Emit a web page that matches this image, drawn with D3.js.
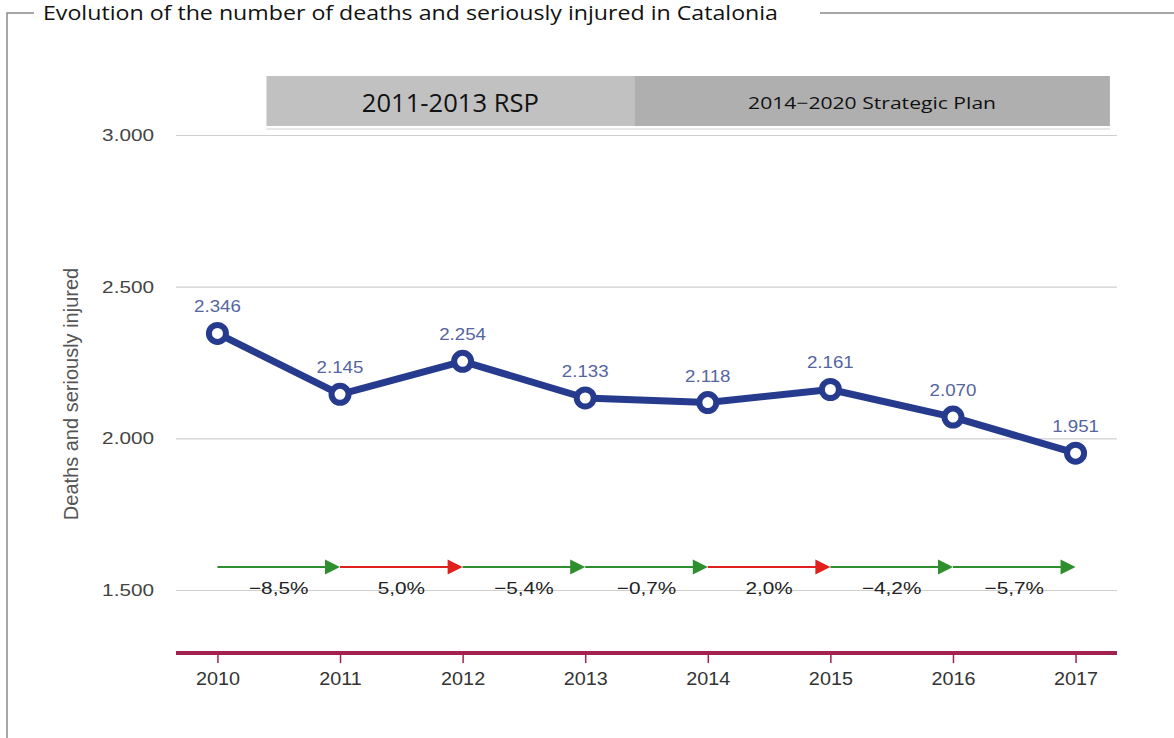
<!DOCTYPE html>
<html>
<head>
<meta charset="utf-8">
<script src="https://cdnjs.cloudflare.com/ajax/libs/d3/7.8.5/d3.min.js"></script>
<style>
  html, body { margin: 0; padding: 0; background: #fff; }
  svg { display: block; }
</style>
</head>
<body>
<svg id="chart" width="1174" height="738"></svg>
<script>
// ---- data ----
const years = ["2010", "2011", "2012", "2013", "2014", "2015", "2016", "2017"];
const values = [2346, 2145, 2254, 2133, 2118, 2161, 2070, 1951];
const valueLabels = ["2.346", "2.145", "2.254", "2.133", "2.118", "2.161", "2.070", "1.951"];
const changeLabels = ["\u22128,5%", "5,0%", "\u22125,4%", "\u22120,7%", "2,0%", "\u22124,2%", "\u22125,7%"];
const changeValues = [-8.5, 5.0, -5.4, -0.7, 2.0, -4.2, -5.7];
const yTicks = [1500, 2000, 2500, 3000];
const yTickLabels = ["1.500", "2.000", "2.500", "3.000"];
const periods = ["2011-2013 RSP", "2014\u22122020 Strategic Plan"];
const periodStarts = [2010.4, 2013.4];
const periodEnds = [2013.4, 2017.28];
const axisBase = 1292;
const titleText = "Evolution of the number of deaths and seriously injured in Catalonia";
const yTitle = "Deaths and seriously injured";

// ---- helpers ----
const SANS = "'Liberation Sans', Arial, sans-serif";
function stretch(sel, f) {
  sel.each(function () {
    const w = this.getComputedTextLength();
    d3.select(this).attr("textLength", w * f).attr("lengthAdjust", "spacingAndGlyphs");
  });
}

// ---- layout ----
const svg = d3.select("#chart");
const left = 176, right = 1117;
const x = d3.scalePoint().domain(years).range([left, right]).padding(0.338);
const y = d3.scaleLinear().domain([1500, 3000]).range([590, 135]);
const xNum = d3.scaleLinear().domain([2010, 2017]).range([x("2010"), x("2017")]);

// frame + title
svg.append("path").attr("d", "M7,738 V13 H34").attr("fill", "none").attr("stroke", "#8a8a8a").attr("stroke-width", 1.5);
svg.append("line").attr("x1", 820).attr("x2", 1174).attr("y1", 13).attr("y2", 13).attr("stroke", "#8a8a8a").attr("stroke-width", 1.5);
svg.append("text").attr("x", 43).attr("y", 20).text(titleText)
  .attr("font-family", "'Open Sans', sans-serif").attr("font-size", 20).attr("fill", "#111")
  .attr("textLength", 735).attr("lengthAdjust", "spacingAndGlyphs");

// period boxes
const boxColors = ["#c1c1c1", "#afafaf"];
const boxTextW = [177, 248];
const boxTextSize = [25, 17];
periods.forEach((p, i) => {
  const x0 = xNum(periodStarts[i]), x1 = xNum(periodEnds[i]);
  svg.append("rect").attr("x", x0).attr("y", 76).attr("width", x1 - x0).attr("height", 50).attr("fill", boxColors[i]);
  svg.append("text").attr("x", (x0 + x1) / 2).attr("y", 102).attr("text-anchor", "middle").attr("dominant-baseline", "central")
    .attr("font-family", "'Open Sans', sans-serif").attr("font-size", boxTextSize[i]).attr("fill", "#111")
    .attr("textLength", boxTextW[i]).attr("lengthAdjust", "spacingAndGlyphs").text(p);
});
// faint shadow under boxes
svg.append("line").attr("x1", xNum(periodStarts[0])).attr("x2", xNum(periodEnds[1])).attr("y1", 129).attr("y2", 129)
  .attr("stroke", "#e8e8e8").attr("stroke-width", 2);

// gridlines
const yAxis = d3.axisLeft(y).tickValues(yTicks).tickFormat((d, i) => yTickLabels[i]).tickSize(-(right - left)).tickPadding(22);
const gy = svg.append("g").attr("transform", `translate(${left},0)`).call(yAxis);
gy.select(".domain").remove();
gy.selectAll(".tick line").attr("stroke", "#cfcfcf").attr("stroke-width", 1.2);
gy.selectAll(".tick text").attr("font-family", SANS).attr("font-size", 17).attr("fill", "#444").call(stretch, 1.22);

// y title
svg.append("text").attr("transform", `translate(78,394) rotate(-90)`).attr("text-anchor", "middle")
  .attr("font-family", SANS).attr("font-size", 20).attr("fill", "#555").text(yTitle);

// x axis
const xAxis = d3.axisBottom(x).tickSize(10).tickPadding(9);
const gx = svg.append("g").attr("transform", `translate(0,${y(axisBase)})`).call(xAxis);
gx.select(".domain").remove();
gx.append("line").attr("x1", left).attr("x2", right).attr("y1", 0).attr("y2", 0).attr("stroke", "#a3214f").attr("stroke-width", 4);
gx.selectAll(".tick line").attr("stroke", "#a3214f").attr("stroke-width", 1.5);
gx.selectAll(".tick text").attr("font-family", SANS).attr("font-size", 18).attr("fill", "#333").call(stretch, 1.1);

// change arrows
const arrowY = 567;
changeValues.forEach((c, i) => {
  const xa = x(years[i]), xb = x(years[i + 1]);
  const col = c < 0 ? "#2f8f2f" : "#e0201c";
  svg.append("line").attr("x1", xa).attr("x2", xb - 12).attr("y1", arrowY).attr("y2", arrowY).attr("stroke", col).attr("stroke-width", 2);
  svg.append("path").attr("d", `M${xb - 15},${arrowY - 7.5} L${xb},${arrowY} L${xb - 15},${arrowY + 7.5} Z`).attr("fill", col);
  svg.append("text").attr("class", "pct").attr("x", (xa + xb) / 2).attr("y", 594).attr("text-anchor", "middle")
    .attr("font-family", SANS).attr("font-size", 17).attr("fill", "#222").text(changeLabels[i]);
});
svg.selectAll("text.pct").call(stretch, 1.22);

// line
const line = d3.line().x((d, i) => x(years[i])).y(d => y(d));
svg.append("path").datum(values).attr("d", line).attr("fill", "none").attr("stroke", "#263b8d").attr("stroke-width", 7).attr("stroke-linejoin", "round");
svg.selectAll("circle.pt").data(values).join("circle").attr("class", "pt")
  .attr("cx", (d, i) => x(years[i])).attr("cy", d => y(d)).attr("r", 8.5)
  .attr("fill", "#fff").attr("stroke", "#263b8d").attr("stroke-width", 6);
svg.selectAll("text.vl").data(values).join("text").attr("class", "vl")
  .attr("x", (d, i) => x(years[i])).attr("y", d => y(d) - 21).attr("text-anchor", "middle")
  .attr("font-family", SANS).attr("font-size", 17).attr("fill", "#5565a0")
  .text((d, i) => valueLabels[i]).call(stretch, 1.1);
</script>
</body>
</html>
